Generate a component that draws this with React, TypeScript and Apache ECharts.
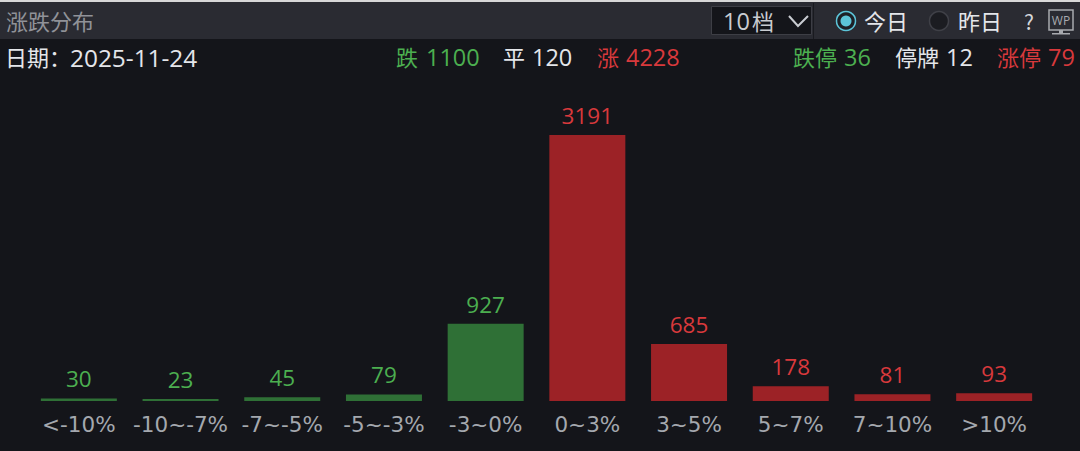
import React, { useEffect, useRef } from "react";
import * as echarts from "echarts";

const categories = ["<-10%", "-10~-7%", "-7~-5%", "-5~-3%", "-3~0%", "0~3%", "3~5%", "5~7%", "7~10%", ">10%"];
const counts = [30, 23, 45, 79, 927, 3191, 685, 178, 81, 93];
const fallCount = 5;
const title = "涨跌分布";
const dateLabel = "日期：";
const dateValue = "2025-11-24";
const GREEN = "#4caf50";
const RED = "#d8393c";
const WHITE = "#e4e6ea";
const CJK = '"Noto Sans CJK SC", "Noto Sans", sans-serif';
const NUM = '"Open Sans", "Noto Sans", sans-serif';
const AXIS = '"DejaVu Sans", "Noto Sans", sans-serif';

const t = (x: number, y: number, text: string, fill: string, fontSize = 22, textAlign = "left", fontFamily = CJK) => ({
  type: "text",
  x,
  y,
  silent: true,
  style: { text, fill, fontSize, fontFamily, textAlign, textVerticalAlign: "middle" },
});
const n = (x: number, y: number, text: string, fill: string, size = 23.5) => t(x, y, text, fill, size, "left", NUM);

export default function App() {
  const ref = useRef<HTMLDivElement>(null);
  useEffect(() => {
    const chart = echarts.init(ref.current!, null, { renderer: "svg" });
    chart.setOption({
      animation: false,
      backgroundColor: "#14151a",
      grid: { left: 28, right: 35, top: 135, height: 266 },
      xAxis: {
        type: "category",
        data: categories,
        axisLine: { show: false },
        axisTick: { show: false },
        axisLabel: { color: "#a4a8ae", fontSize: 21.5, fontFamily: AXIS, margin: 12, interval: 0 },
      },
      yAxis: { type: "value", min: 0, max: 3191, show: false, splitLine: { show: false } },
      series: [
        {
          type: "bar",
          barWidth: 76,
          data: counts.map((v, i) => ({
            value: v,
            itemStyle: { color: i < fallCount ? "#2f7036" : "#9c2226" },
            label: { color: i < fallCount ? GREEN : RED },
          })),
          label: { show: true, position: "top", distance: 8, fontSize: 22.5, fontFamily: NUM },
        },
      ],
      graphic: [
        { type: "rect", silent: true, shape: { x: 0, y: 0, width: 1080, height: 2 }, style: { fill: "#d8d8d8" } },
        { type: "rect", silent: true, shape: { x: 0, y: 2, width: 1080, height: 37 }, style: { fill: "#2a2b32" } },
        t(6, 20, title, "#909298", 22),
        { type: "rect", silent: true, shape: { x: 711.5, y: 6.5, width: 100, height: 28 }, style: { fill: "#14151a", stroke: "#3d3e45", lineWidth: 1 } },
        t(723, 21, "10", "#c9ccd1", 23.5, "left", NUM),
        t(752, 20, "档", "#c9ccd1", 22),
        { type: "polyline", silent: true, shape: { points: [[789, 16], [798, 26], [808, 16]] }, style: { stroke: "#c9ccd1", lineWidth: 2, fill: "none" } },
        { type: "rect", silent: true, shape: { x: 813, y: 3, width: 1, height: 36 }, style: { fill: "#191a1f" } },
        { type: "circle", silent: true, shape: { cx: 846, cy: 21, r: 9.5 }, style: { fill: "#1d2026", stroke: "#5cc4d8", lineWidth: 1.5 } },
        { type: "circle", silent: true, shape: { cx: 846, cy: 21, r: 5.5 }, style: { fill: "#5cc4d8" } },
        t(864, 20, "今日", WHITE, 22),
        { type: "circle", silent: true, shape: { cx: 939, cy: 21, r: 9.5 }, style: { fill: "#1b1c21", stroke: "#3f4047", lineWidth: 1.5 } },
        t(958, 20, "昨日", WHITE, 22),
        t(1029, 21, "?", "#d4d6da", 21, "center"),
        { type: "rect", silent: true, shape: { x: 1049, y: 10, width: 24, height: 20 }, style: { fill: "#2a2b32", stroke: "#a8aaaf", lineWidth: 1.5 } },
        t(1061, 20, "WP", "#a8aaaf", 12, "center", NUM),
        { type: "rect", silent: true, shape: { x: 1059, y: 30, width: 4, height: 3 }, style: { fill: "#a8aaaf" } },
        { type: "rect", silent: true, shape: { x: 1052, y: 33, width: 18, height: 1.5 }, style: { fill: "#a8aaaf" } },
        t(5, 56, dateLabel, WHITE, 22),
        n(70, 57, dateValue, WHITE, 24.4),
        t(396, 56, "跌", GREEN, 22),
        n(426, 57, "1100", GREEN),
        t(503, 56, "平", WHITE, 22),
        n(532, 57, "120", WHITE),
        t(597, 56, "涨", RED, 22),
        n(626, 57, "4228", RED),
        t(793, 56, "跌停", GREEN, 22),
        n(844, 57, "36", GREEN),
        t(895, 56, "停牌", WHITE, 22),
        n(946, 57, "12", WHITE),
        t(997, 56, "涨停", RED, 22),
        n(1048, 57, "79", RED),
      ],
    });
    return () => chart.dispose();
  }, []);
  return (
    <div
      ref={ref}
      style={{ position: "fixed", left: 0, top: 0, width: 1080, height: 451 }}
    />
  );
}
